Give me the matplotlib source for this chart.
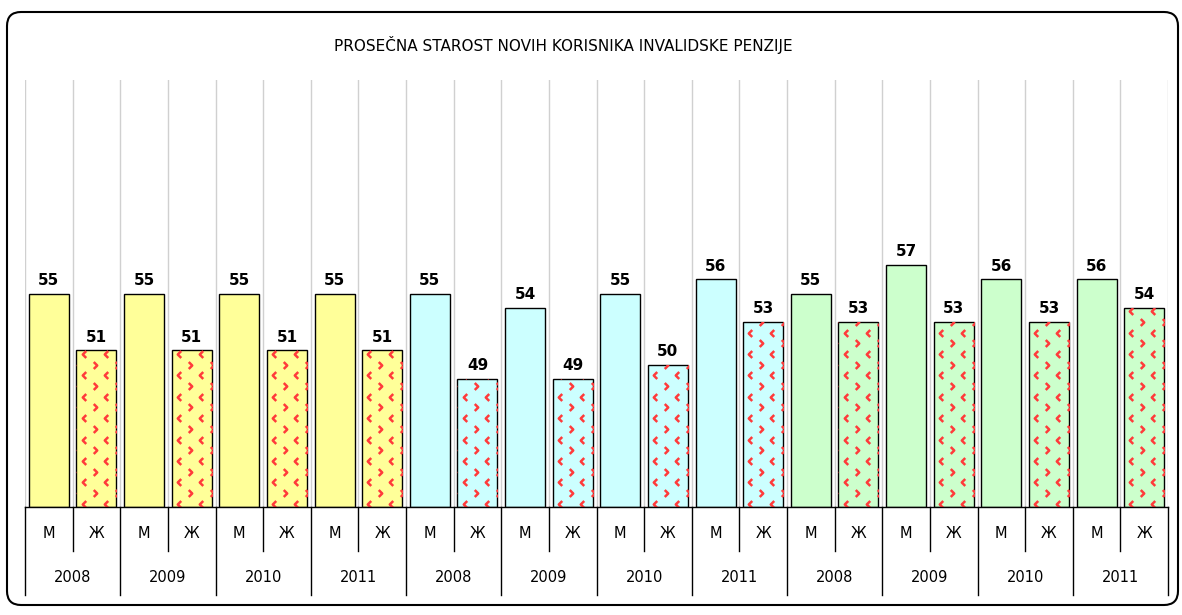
import matplotlib
matplotlib.use('Agg')
import matplotlib.pyplot as plt
import numpy as np
from matplotlib.patches import FancyBboxPatch
from matplotlib.path import Path
from matplotlib.transforms import IdentityTransform, blended_transform_factory

# ---------------- data ----------------
title = "PROSEČNA STAROST NOVIH KORISNIKA INVALIDSKE PENZIJE"
years = ["2008", "2009", "2010", "2011"] * 3
sexes = ["М", "Ж"]
male = [55, 55, 55, 55, 55, 54, 55, 56, 55, 57, 56, 56]
female = [51, 51, 51, 51, 49, 49, 50, 53, 53, 53, 53, 54]
group_colors = ["#FFFF99", "#CCFFFF", "#CCFFCC"]
pattern_color = "#FF3B3B"

# ---------------- figure ----------------
W, H = 1182, 615
fig = plt.figure(figsize=(W / 100, H / 100), dpi=100)
ax_l, ax_r, ax_t, ax_b = 25, 1168, 80, 507
ax = fig.add_axes([ax_l / W, 1 - ax_b / H, (ax_r - ax_l) / W, (ax_b - ax_t) / H])

values, colors, hatched, sex_labels = [], [], [], []
for i, (m, f) in enumerate(zip(male, female)):
    c = group_colors[i // 4]
    values += [m, f]
    colors += [c, c]
    hatched += [False, True]
    sex_labels += sexes

n = len(values)
x = np.arange(n)
ymin, ymax = 40, 70
vals = np.array(values)

bars = ax.bar(x, vals - ymin, bottom=ymin, width=0.84, color=colors,
              edgecolor='black', linewidth=1.0, zorder=2)
ax.set_xlim(-0.5, n - 0.5)
ax.set_ylim(ymin, ymax)

# category grid lines
for k in range(n + 1):
    ax.axvline(k - 0.5, color='#d0d0d0', lw=1, zorder=1)

# value labels
for xi, v in zip(x, values):
    ax.annotate(str(v), (xi, v), xytext=(0, 4), textcoords='offset points',
                ha='center', va='bottom', fontweight='bold', fontsize=11)

# chevron pattern on female bars
px_x = (ax_r - ax_l) / n
px_y = (ax_b - ax_t) / (ymax - ymin)
dx = 22 / px_x
dy = 10.7 / px_y
left_chev = Path([(0.5, 1), (-0.5, 0), (0.5, -1)], [Path.MOVETO, Path.LINETO, Path.LINETO])
right_chev = Path([(-0.5, 1), (0.5, 0), (-0.5, -1)], [Path.MOVETO, Path.LINETO, Path.LINETO])
for b, h in zip(bars, hatched):
    if not h:
        continue
    x0 = b.get_x()
    top = b.get_y() + b.get_height()
    nrows = int(np.ceil((top - ymin) / dy)) + 1
    for r in range(nrows):
        yy = ymin + dy * (r + 0.3)
        if r % 2 == 0:
            xs = x0 + 7.3 / px_x + dx * np.arange(3)
            mk = left_chev
        else:
            xs = x0 + 18.3 / px_x + dx * np.arange(3) - dx
            mk = right_chev
        line, = ax.plot(xs, [yy] * len(xs), linestyle='none', marker=mk,
                        markersize=5, markerfacecolor='none',
                        markeredgecolor=pattern_color, markeredgewidth=1.8, zorder=3)
        line.set_clip_path(b)

# axes styling
for s in ['left', 'right', 'top']:
    ax.spines[s].set_visible(False)
ax.spines['bottom'].set_color('black')
ax.spines['bottom'].set_linewidth(1.0)
ax.spines['bottom'].set_zorder(4)
ax.set_yticks([])
ax.set_xticks([])

# multilevel category axis
trans = blended_transform_factory(ax.transData, ax.transAxes)
axh = ax_b - ax_t
for k in range(n + 1):
    yb = -88 / axh if k % 2 == 0 else -44 / axh
    ax.plot([k - 0.5, k - 0.5], [0, yb], transform=trans, clip_on=False,
            color='black', lw=1)
for xi, s in zip(x, sex_labels):
    ax.text(xi, -26 / axh, s, transform=trans, ha='center', va='center', fontsize=10.5)
for i, yr in enumerate(years):
    ax.text(2 * i + 0.5, -71 / axh, yr, transform=trans, ha='center', va='center', fontsize=10.5)

# title
fig.text(563 / W, 1 - 45 / H, title, ha='center', va='center', fontsize=11)

# rounded outer border
border = FancyBboxPatch((7, H - 605), 1171, 593, boxstyle='round,pad=0,rounding_size=14',
                        transform=IdentityTransform(), fill=False, ec='black', lw=1.5)
fig.add_artist(border)

fig.savefig('out.png', dpi=100)
